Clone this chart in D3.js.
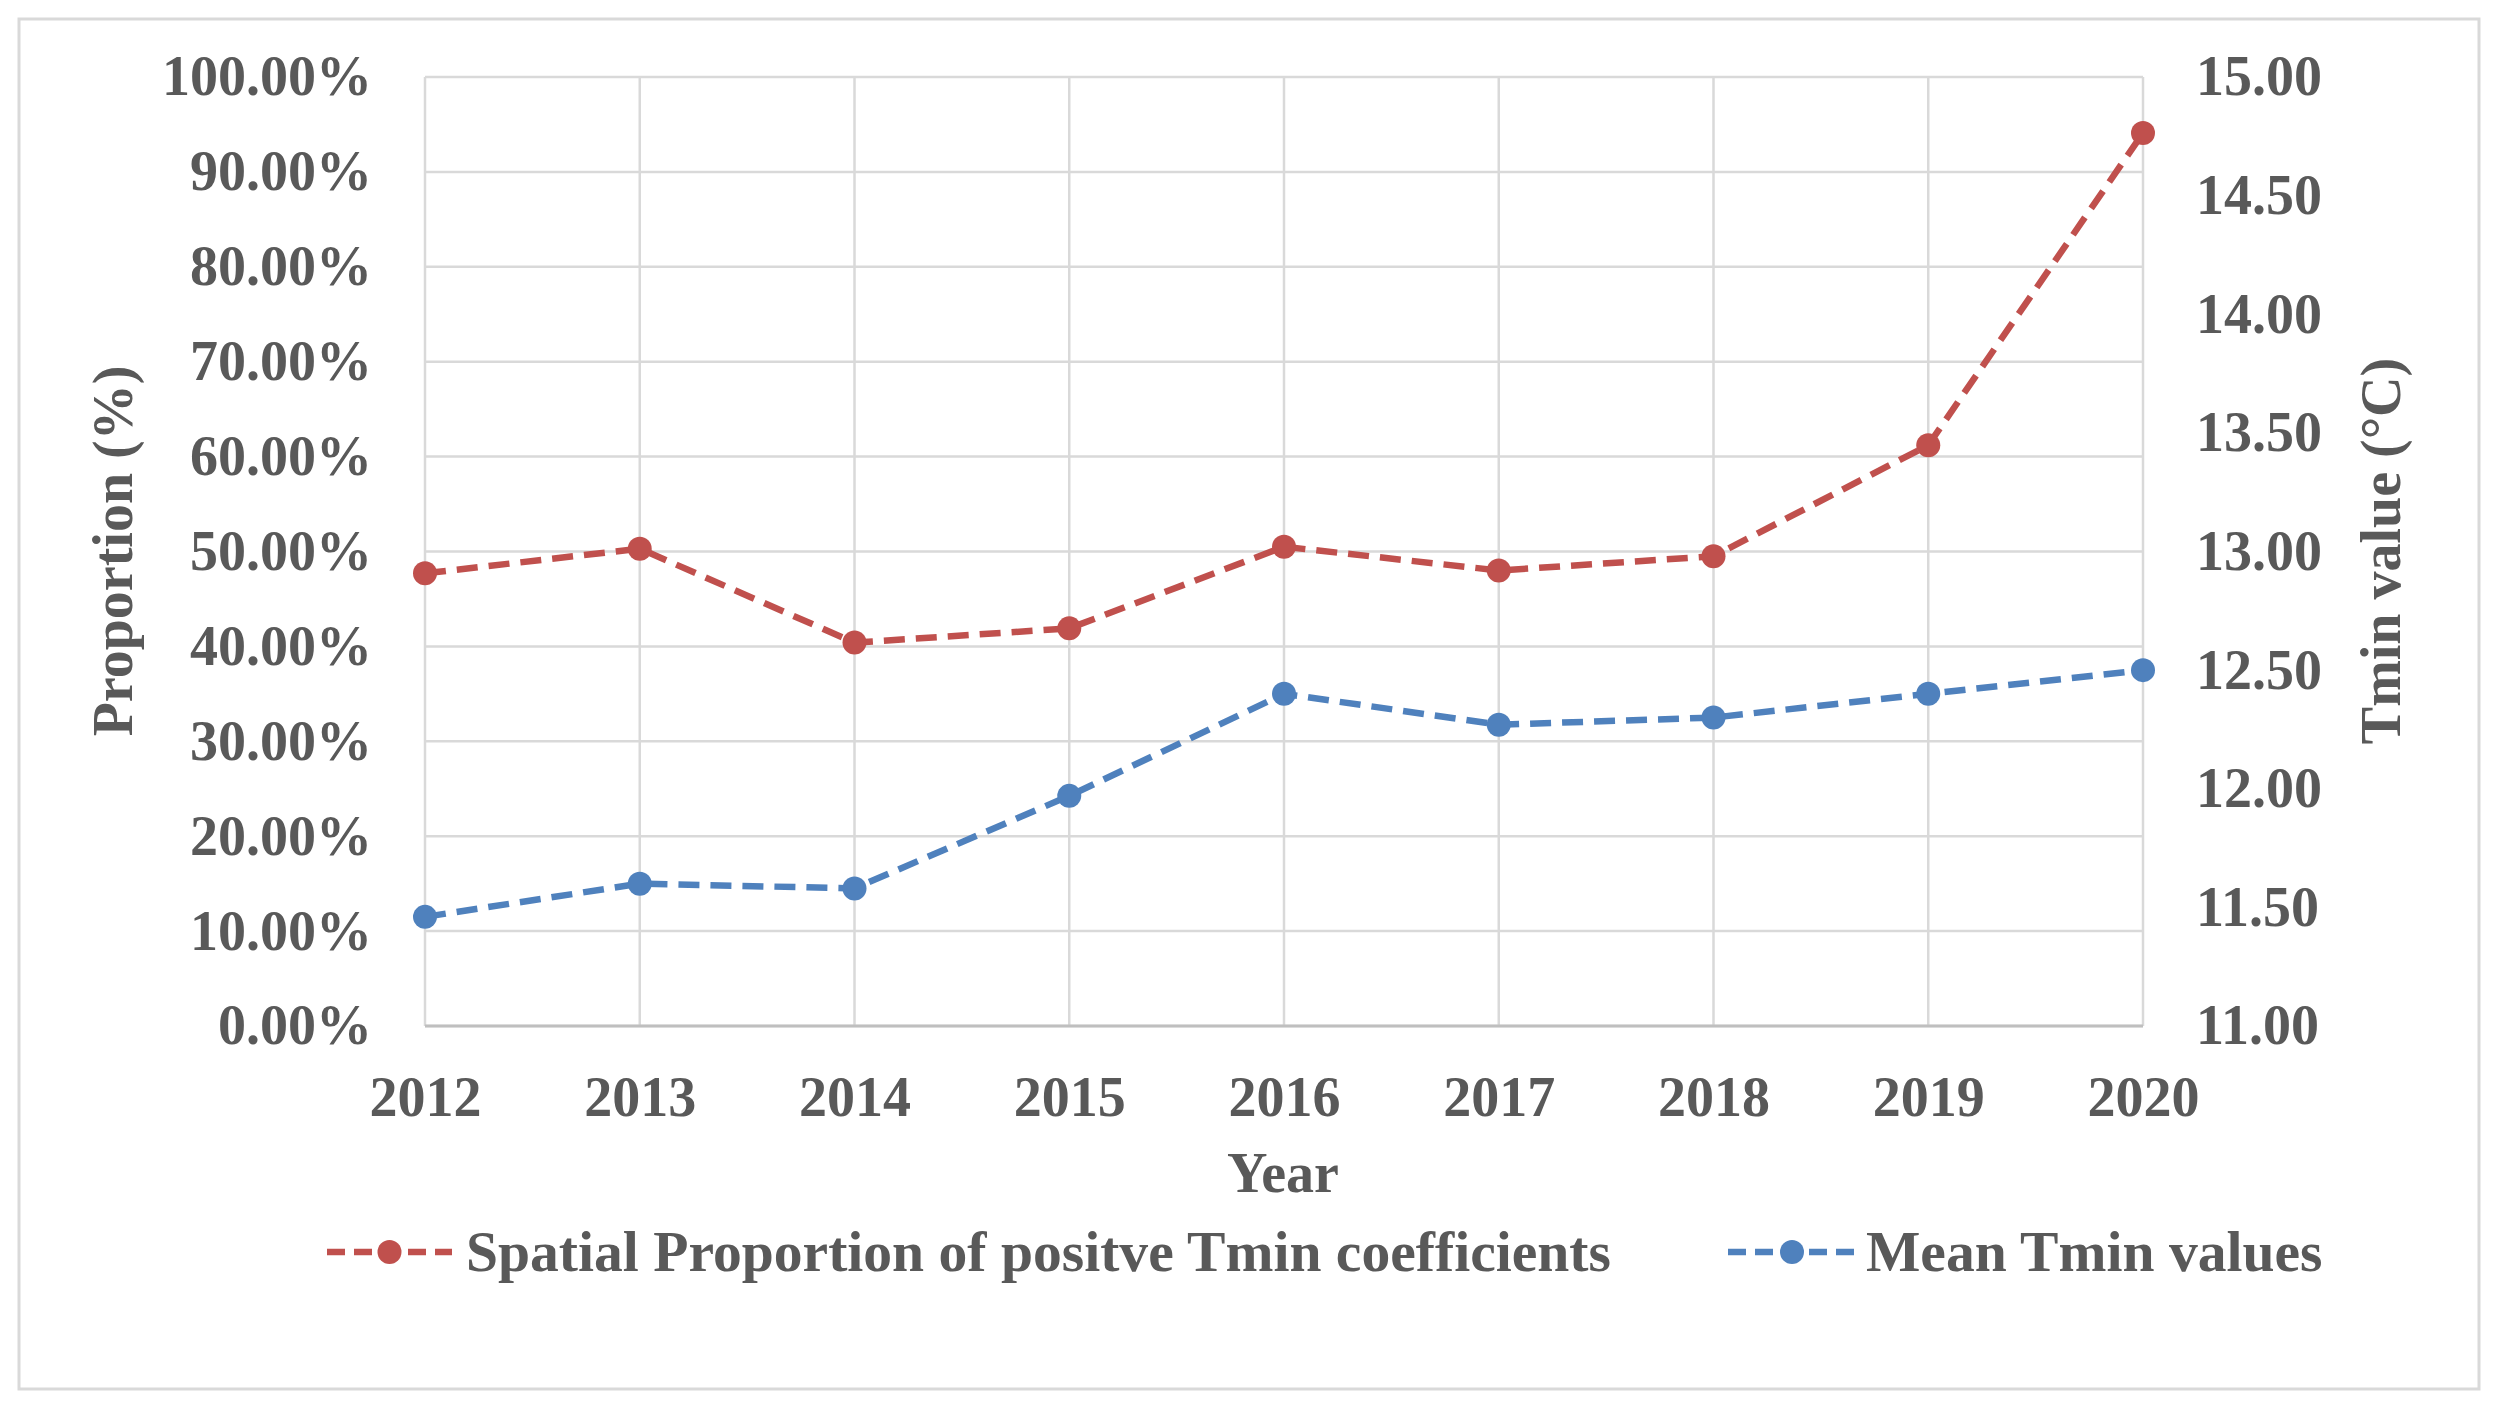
<!DOCTYPE html>
<html>
<head>
<meta charset="utf-8">
<script src="https://cdn.jsdelivr.net/npm/d3@7"></script>
<style>
  html, body { margin: 0; padding: 0; background: #ffffff; }
  svg { display: block; }
  text { font-family: "Liberation Serif", "Times New Roman", serif; font-weight: bold; fill: #595959; }
</style>
</head>
<body>
<svg id="chart" width="2495" height="1408"></svg>
<script>
// ---- Data ----
const years = ["2012", "2013", "2014", "2015", "2016", "2017", "2018", "2019", "2020"];
const proportionValues = [0.477, 0.503, 0.404, 0.419, 0.505, 0.480, 0.495, 0.612, 0.941];
const tminValues = [11.46, 11.60, 11.58, 11.97, 12.40, 12.27, 12.30, 12.40, 12.50];
const leftTicks = [0, 0.1, 0.2, 0.3, 0.4, 0.5, 0.6, 0.7, 0.8, 0.9, 1.0];
const rightTicks = [11.0, 11.5, 12.0, 12.5, 13.0, 13.5, 14.0, 14.5, 15.0];
const seriesNames = ["Spatial Proportion of positve Tmin coefficients", "Mean Tmin values"];
const seriesColors = ["#C0504D", "#4F81BD"];

// ---- Layout ----
const W = 2495, H = 1408;
const plot = { left: 425, right: 2143, top: 77, bottom: 1026 };
const svg = d3.select("#chart");

svg.append("rect").attr("x", 0).attr("y", 0).attr("width", W).attr("height", H).attr("fill", "#fff");
svg.append("rect")
  .attr("x", 19).attr("y", 19).attr("width", 2460).attr("height", 1370)
  .attr("fill", "none").attr("stroke", "#d9d9d9").attr("stroke-width", 3);

const x = d3.scalePoint().domain(years).range([plot.left, plot.right]).padding(0);
const yL = d3.scaleLinear().domain([0, 1]).range([plot.bottom, plot.top]);
const yR = d3.scaleLinear().domain([11, 15]).range([plot.bottom, plot.top]);

// gridlines
const grid = svg.append("g");
grid.selectAll("line.h").data(leftTicks).join("line")
  .attr("x1", plot.left).attr("x2", plot.right)
  .attr("y1", d => yL(d)).attr("y2", d => yL(d))
  .attr("stroke", "#d9d9d9").attr("stroke-width", 2.5);
grid.selectAll("line.v").data(years).join("line")
  .attr("x1", d => x(d)).attr("x2", d => x(d))
  .attr("y1", plot.top).attr("y2", plot.bottom)
  .attr("stroke", "#d9d9d9").attr("stroke-width", 2.5);
// bottom axis line
svg.append("line").attr("x1", plot.left).attr("x2", plot.right)
  .attr("y1", plot.bottom).attr("y2", plot.bottom)
  .attr("stroke", "#bfbfbf").attr("stroke-width", 3);

// axes
const fontSize = 56;
const axL = svg.append("g").attr("transform", `translate(${plot.left},0)`)
  .call(d3.axisLeft(yL).tickValues(leftTicks).tickFormat(d3.format(".2%")).tickSize(0).tickPadding(53));
const axR = svg.append("g").attr("transform", `translate(${plot.right},0)`)
  .call(d3.axisRight(yR).tickValues(rightTicks).tickFormat(d3.format(".2f")).tickSize(0).tickPadding(53));
const axB = svg.append("g").attr("transform", `translate(0,${plot.bottom})`)
  .call(d3.axisBottom(x).tickSize(0).tickPadding(50));
[axL, axR, axB].forEach(a => {
  a.select(".domain").remove();
  a.selectAll("text").attr("font-size", fontSize)
    .attr("font-family", "'Liberation Serif', 'Times New Roman', serif")
    .attr("font-weight", "bold").attr("fill", "#595959");
});

// axis titles
svg.append("text").attr("transform", "translate(132,551) rotate(-90)")
  .attr("text-anchor", "middle").attr("font-size", fontSize).text("Proportion (%)");
svg.append("text").attr("transform", "translate(2400,551) rotate(-90)")
  .attr("text-anchor", "middle").attr("font-size", fontSize).text("Tmin value (°C)");
svg.append("text").attr("x", 1283).attr("y", 1192)
  .attr("text-anchor", "middle").attr("font-size", fontSize).text("Year");

// series
const dash = "21,11";
const lw = 6.5, r = 12;
function drawSeries(vals, yScale, color) {
  const pts = years.map((yr, i) => [x(yr), yScale(vals[i])]);
  svg.append("path").attr("d", d3.line()(pts))
    .attr("fill", "none").attr("stroke", color).attr("stroke-width", lw)
    .attr("stroke-dasharray", dash);
  svg.append("g").selectAll("circle").data(pts).join("circle")
    .attr("cx", d => d[0]).attr("cy", d => d[1]).attr("r", r).attr("fill", color);
}
drawSeries(proportionValues, yL, seriesColors[0]);
drawSeries(tminValues, yR, seriesColors[1]);

// legend
const legendY = 1252;
const legendFont = 57.6;
const legendItems = [
  { name: seriesNames[0], color: seriesColors[0], x0: 327, x1: 452, tx: 466 },
  { name: seriesNames[1], color: seriesColors[1], x0: 1728, x1: 1856, tx: 1866 }
];
legendItems.forEach(it => {
  svg.append("line").attr("x1", it.x0).attr("x2", it.x1).attr("y1", legendY).attr("y2", legendY)
    .attr("stroke", it.color).attr("stroke-width", lw).attr("stroke-dasharray", "18,9");
  svg.append("circle").attr("cx", (it.x0 + it.x1) / 2).attr("cy", legendY).attr("r", r).attr("fill", it.color);
  svg.append("text").attr("x", it.tx).attr("y", legendY + 19).attr("font-size", legendFont).text(it.name);
});
</script>
</body>
</html>
